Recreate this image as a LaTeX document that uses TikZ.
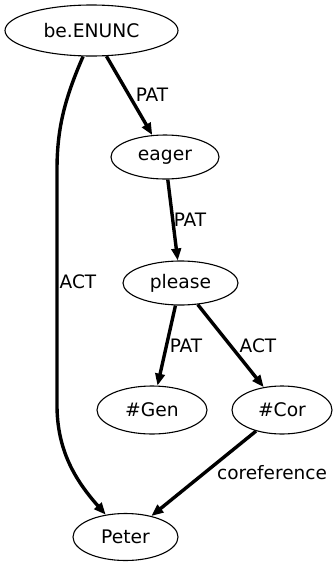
\documentclass[tikz,border=0pt]{standalone}
\usepackage{fontspec}
\setmainfont{DejaVu Sans}
\usetikzlibrary{shapes.geometric,arrows.meta}
\begin{document}
\begin{tikzpicture}[x=1pt,y=-1pt,
  tnode/.style={draw,ellipse,line width=1.1pt,inner sep=0pt,font=\fontsize{18.7}{21}\selectfont},
  edge/.style={line width=3.4pt,-{Triangle[length=12pt,width=9.5pt]}},
  elabel/.style={inner sep=0pt,font=\fontsize{18.5}{21}\selectfont}]
\useasboundingbox (0,0) rectangle (333,563);
% nodes of the tree
\node[tnode,minimum width=173pt,minimum height=51pt] (be) at (91.5,30.5) {be.ENUNC};
\node[tnode,minimum width=108pt,minimum height=44pt] (eager) at (165,157) {eager};
\node[tnode,minimum width=115pt,minimum height=44pt] (please) at (180.5,283) {please};
\node[tnode,minimum width=110pt,minimum height=48pt] (gen) at (152,410) {\#Gen};
\node[tnode,minimum width=100pt,minimum height=48pt] (cor) at (282,410) {\#Cor};
\node[tnode,minimum width=105pt,minimum height=47pt] (peter) at (125.5,537) {Peter};
% edges
\draw[edge] (be) -- (eager);
\draw[edge] (eager) -- (please);
\draw[edge] (please) -- (gen);
\draw[edge] (please) -- (cor);
\draw[edge] (cor) -- (peter);
\draw[edge] (be.252) .. controls (64,100) and (57,130) .. (57,170)
  -- (57,405) .. controls (57,450) and (75,480) .. (peter);
% edge labels
\node[elabel] (l1) at (152,95) {PAT};
\node[elabel] (l2) at (190,220) {PAT};
\node[elabel] (l3) at (78,282) {ACT};
\node[elabel] (l4) at (186,346) {PAT};
\node[elabel] (l5) at (258,346) {ACT};
\node[elabel] (l6) at (272,473) {coreference};
\end{tikzpicture}
\end{document}
